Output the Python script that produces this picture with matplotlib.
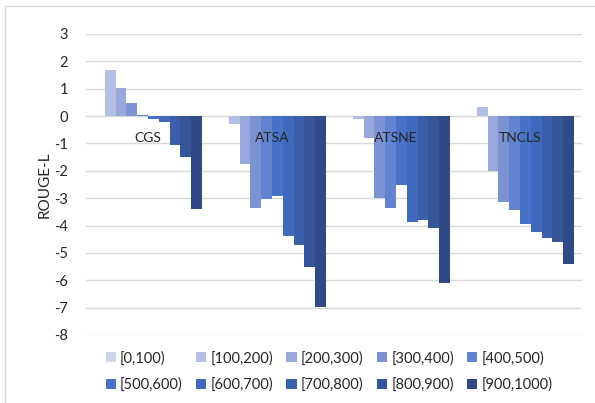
import numpy as np
import matplotlib.pyplot as plt
from matplotlib.patches import Rectangle

plt.rcParams['font.family'] = ['Lato', 'DejaVu Sans']
plt.rcParams['axes.unicode_minus'] = False

categories = ['CGS', 'ATSA', 'ATSNE', 'TNCLS']
bins = ['[0,100)', '[100,200)', '[200,300)', '[300,400)', '[400,500)',
        '[500,600)', '[600,700)', '[700,800)', '[800,900)', '[900,1000)']

# ROUGE-L difference per length bin, one list per category
cgs = [0.0, 1.68, 1.02, 0.49, 0.05, -0.12, -0.20, -1.07, -1.50, -3.38]
atsa = [0.0, -0.30, -1.76, -3.35, -3.04, -2.92, -4.38, -4.71, -5.50, -6.97]
atsne = [0.0, -0.12, -0.81, -2.98, -3.35, -2.51, -3.86, -3.80, -4.08, -6.09]
tncls = [0.0, 0.32, -2.00, -3.13, -3.43, -3.94, -4.24, -4.47, -4.59, -5.41]

colors = ['#cfd5ea', '#b3bee2', '#98a8da', '#7d92d3', '#6283cf',
          '#4673c8', '#3f69bb', '#3b5fab', '#37569a', '#2f4a86']

values = np.array([cgs, atsa, atsne, tncls])

fig = plt.figure(figsize=(5.95, 4.03), dpi=100)
ax = fig.add_axes([86 / 595, 1 - 335 / 403, (582 - 86) / 595, (335 - 34) / 403])

x = np.arange(len(categories))
n = len(bins)
w = 0.873 / n
handles = []
for i in range(n):
    b = ax.bar(x - 0.873 / 2 + w * (i + 0.5), values[:, i], width=w,
               color=colors[i], label=bins[i], zorder=2)
    handles.append(b)

ax.set_xlim(-0.5, 3.5)
ax.set_ylim(-8, 3)
ax.set_yticks(range(-8, 4))
ax.grid(axis='y', color='#d9d9d9', linewidth=1, zorder=0)
for s in ax.spines.values():
    s.set_visible(False)

# category labels sit just under the zero line, on top of the bars
ax.set_xticks([])
for xi, name in zip(x, categories):
    ax.annotate(name, (xi, 0), xytext=(0, -16), textcoords='offset points',
                ha='center', va='center', fontsize=10, color='#262626',
                zorder=5)

ax.tick_params(axis='y', length=0, pad=13, labelsize=10.5, labelcolor='#262626')
ax.set_ylabel('ROUGE-L', fontsize=11, color='#262626', labelpad=2)

# legend is filled column-wise, so reorder to get Excel's row-wise order
order = [0, 5, 1, 6, 2, 7, 3, 8, 4, 9]
fig.legend([handles[k] for k in order], [bins[k] for k in order],
           ncol=5, loc='center', bbox_to_anchor=(0.553, 0.078), frameon=False,
           fontsize=10.5, handlelength=0.7, handleheight=0.7, handletextpad=0.3,
           columnspacing=0.9, labelspacing=0.85, labelcolor='#262626')

fig.patches.append(Rectangle((5 / 595, -0.01), 1.0, 1 - 6 / 403 + 0.01,
                             transform=fig.transFigure, fill=False,
                             edgecolor='#d9d9d9', linewidth=1))

fig.savefig('out.png', dpi=100)
